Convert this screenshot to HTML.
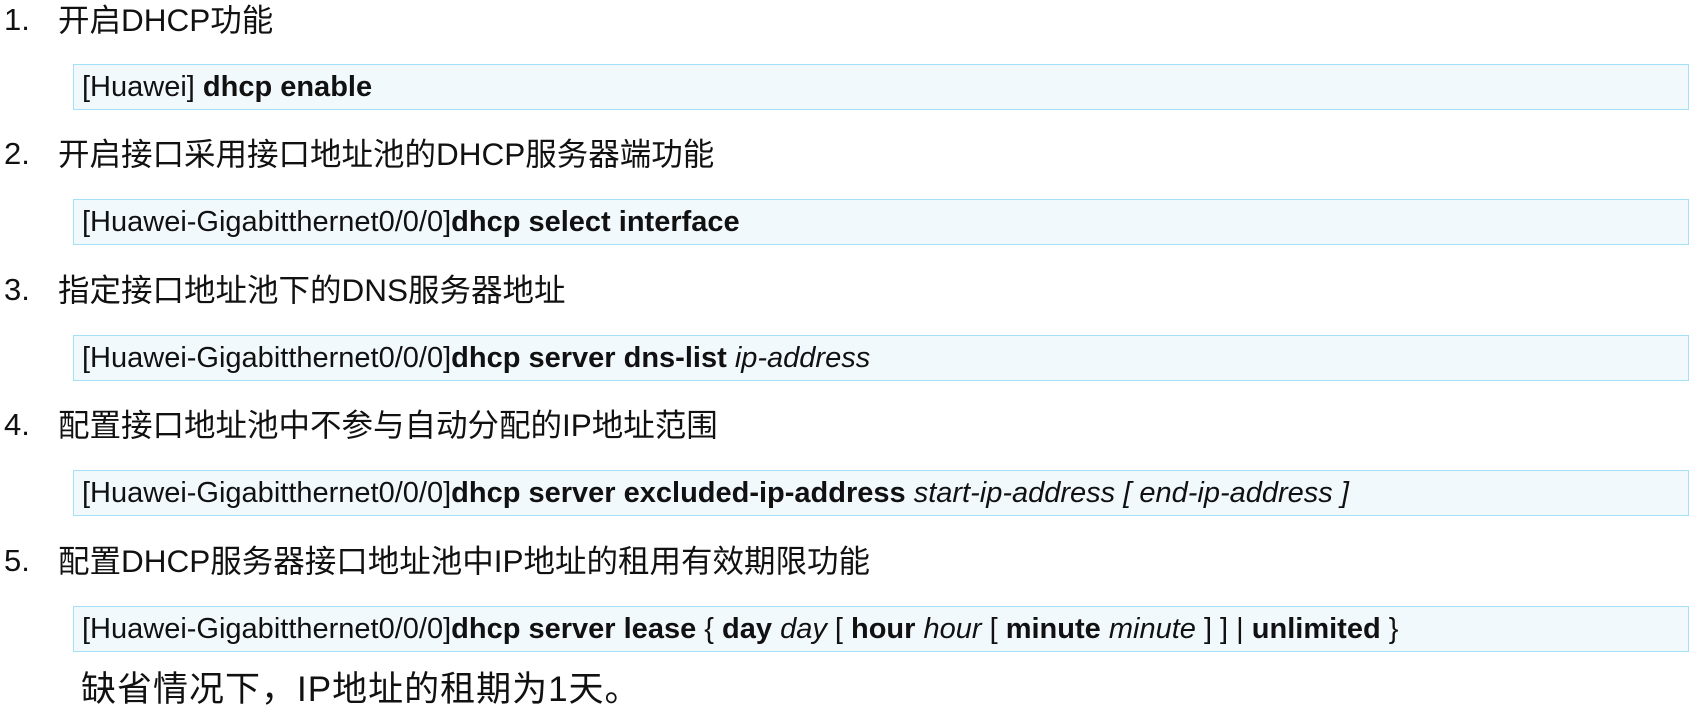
<!DOCTYPE html>
<html><head><meta charset="utf-8"><style>
body{margin:0;width:1697px;height:710px;background:#fff;position:relative;overflow:hidden;font-family:"Liberation Sans","Noto Sans CJK SC",sans-serif;color:#111;}
.h{position:absolute;left:0;height:40px;line-height:40px;font-size:31.5px;white-space:nowrap;}
.h .n{position:absolute;left:4px;font-size:31px;}
.h .t{position:absolute;left:58px;}
.b{position:absolute;left:73px;width:1606px;height:44px;border:1.5px solid #a4e0f7;background:#f2f9fd;line-height:44px;font-size:29px;padding-left:8px;box-sizing:content-box;white-space:nowrap;}
.b b{font-weight:bold}
.b i{font-style:italic}
.l{position:absolute;left:81px;top:670px;height:40px;line-height:40px;font-size:35px;letter-spacing:1px;white-space:nowrap;}
</style></head><body>
<div class="h" style="top:0"><span class="n">1.</span><span class="t">开启DHCP功能</span></div>
<div class="b" style="top:64px">[Huawei] <b>dhcp enable</b></div>
<div class="h" style="top:134px"><span class="n">2.</span><span class="t">开启接口采用接口地址池的DHCP服务器端功能</span></div>
<div class="b" style="top:199px">[Huawei-Gigabitthernet0/0/0]<b>dhcp select interface</b></div>
<div class="h" style="top:270px"><span class="n">3.</span><span class="t">指定接口地址池下的DNS服务器地址</span></div>
<div class="b" style="top:335px">[Huawei-Gigabitthernet0/0/0]<b>dhcp server dns-list</b> <i>ip-address</i></div>
<div class="h" style="top:405px"><span class="n">4.</span><span class="t">配置接口地址池中不参与自动分配的IP地址范围</span></div>
<div class="b" style="top:470px">[Huawei-Gigabitthernet0/0/0]<b>dhcp server excluded-ip-address</b> <i>start-ip-address [ end-ip-address ]</i></div>
<div class="h" style="top:541px"><span class="n">5.</span><span class="t">配置DHCP服务器接口地址池中IP地址的租用有效期限功能</span></div>
<div class="b" style="top:606px">[Huawei-Gigabitthernet0/0/0]<b>dhcp server lease</b> { <b>day</b> <i>day</i> [ <b>hour</b> <i>hour</i> [ <b>minute</b> <i>minute</i> ] ] | <b>unlimited</b> }</div>
<div class="l">缺省情况下，IP地址的租期为1天。</div>
</body></html>
